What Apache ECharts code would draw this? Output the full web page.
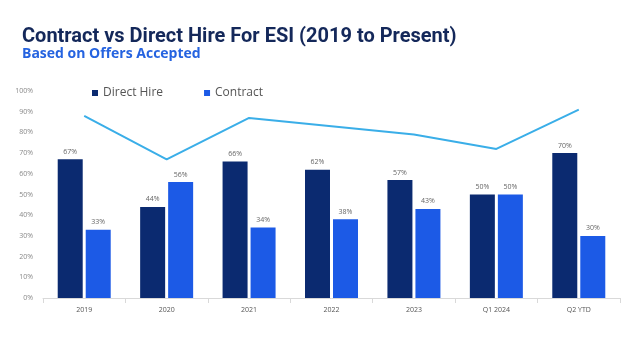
<!DOCTYPE html>
<html><head><meta charset="utf-8">
<script src="https://cdn.jsdelivr.net/npm/echarts@6/dist/echarts.min.js"></script>
<style>html,body{margin:0;padding:0;background:#fff}#c{width:643px;height:361px}</style>
</head><body><div id="c"></div>
<script>
const categories = ['2019','2020','2021','2022','2023','Q1 2024','Q2 YTD'];
const directHire = [67,44,66,62,57,50,70];
const contract = [33,56,34,38,43,50,30];
const trendLine = [88,67,87,83,79,72,91];
const yTicks = [0,10,20,30,40,50,60,70,80,90,100];

const chart = echarts.init(document.getElementById('c'), null, {renderer:'canvas'});
const lblStyle = {show:true, position:'top', distance:4, formatter: p => p.value + '%', color:'#666', fontSize:7, fontFamily:'Open Sans'};
chart.setOption({
  animation:false,
  title:[
    {text:'Contract vs Direct Hire For ESI (2019 to Present)', left:17, top:22,
     textStyle:{fontFamily:'Roboto', fontWeight:'bold', fontSize:20, color:'#14285a'}},
    {text:'Based on Offers Accepted', left:17, top:42,
     textStyle:{fontFamily:'Open Sans', fontWeight:'bold', fontSize:14, color:'#2563e0'}}
  ],
  legend:{data:['Direct Hire','Contract'], left:87, top:82, itemWidth:6, itemHeight:6, itemGap:41,
    icon:'rect', textStyle:{fontFamily:'Open Sans', fontSize:12, color:'#555'}},
  grid:{left:43, right:23, top:91, bottom:63},
  xAxis:{type:'category', data:categories,
    axisLine:{lineStyle:{color:'#d9d9d9'}},
    axisTick:{show:true, lineStyle:{color:'#d9d9d9'}},
    axisLabel:{fontFamily:'Open Sans', fontSize:7, color:'#555', margin:8}},
  yAxis:{type:'value', min:0, max:100, interval:10,
    axisLine:{show:false}, axisTick:{show:false}, splitLine:{show:false},
    axisLabel:{formatter: v => yTicks.includes(v) ? v + '%' : '', fontFamily:'Open Sans', fontSize:7, color:'#888', margin:10}},
  series:[
    {name:'Direct Hire', type:'bar', data:directHire, barWidth:25, barGap:'12%',
     itemStyle:{color:'#0b2a70'}, label:lblStyle},
    {name:'Contract', type:'bar', data:contract, barWidth:25,
     itemStyle:{color:'#1c5ae6'}, label:lblStyle},
    {name:'Trend', type:'line', data:trendLine, symbol:'none', lineStyle:{color:'#3aaee8', width:2},
     itemStyle:{color:'#3aaee8'}}
  ]
});
</script></body></html>
